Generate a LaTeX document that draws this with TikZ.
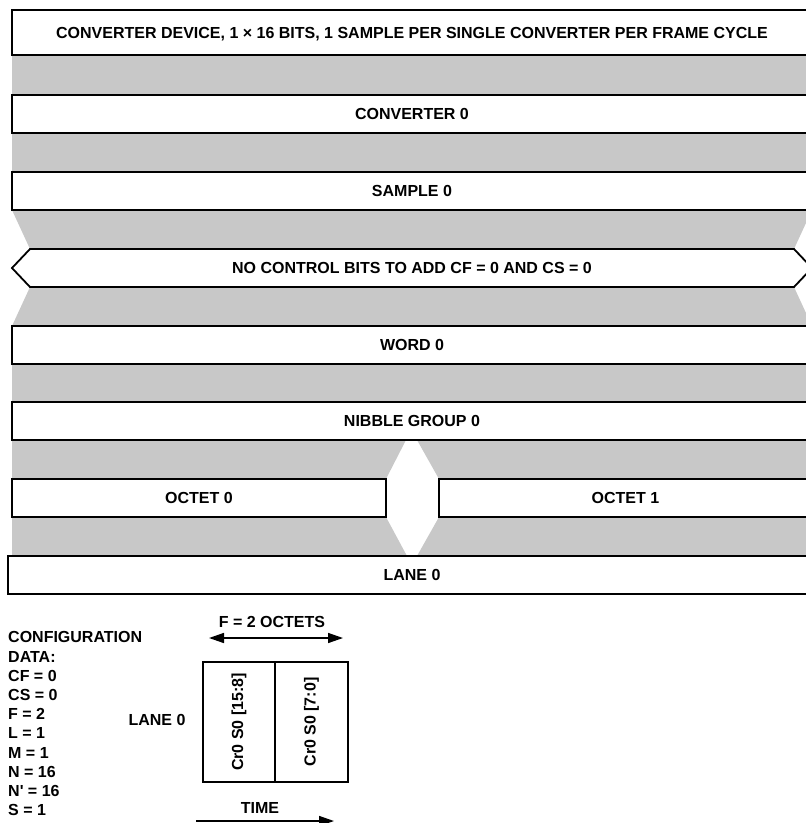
\documentclass[tikz,border=0pt]{standalone}
\usepackage{fontspec}
\setmainfont{Liberation Sans}
\usetikzlibrary{arrows.meta, positioning, calc}
\definecolor{bandgray}{HTML}{C8C8C8}

\begin{document}
\begin{tikzpicture}[x=1pt, y=-1pt, >={Stealth[length=15pt, width=10pt, inset=0pt]},
    font=\fontsize{16}{19.2}\selectfont\bfseries,
    layer/.style={rectangle, draw, fill=white, line width=1.8pt, inner sep=0pt,
      minimum width=800pt, minimum height=38pt, text height=11.5pt, text depth=0pt},
    cell/.style={rectangle, draw, line width=1.5pt, inner sep=0pt,
      minimum width=120pt, rotate=90},
    gap/.style={fill=bandgray}]
  \useasboundingbox (0,0) rectangle (806,823);
  \clip (0,0) rectangle (806,823);

  % grey bands between the layers
  \fill[gap] (12,55) rectangle (812,95);
  \fill[gap] (12,133) rectangle (812,172);
  \fill[gap] (12,210) -- (812,210) -- (794,249) -- (30,249) -- cycle;
  \fill[gap] (30,287) -- (794,287) -- (812,326) -- (12,326) -- cycle;
  \fill[gap] (12,364) rectangle (812,402);
  \fill[gap] (12,440) -- (406,440) -- (386,479) -- (12,479) -- cycle;
  \fill[gap] (417,440) -- (812,440) -- (812,479) -- (439,479) -- cycle;
  \fill[gap] (12,517) -- (386,517) -- (407,556) -- (12,556) -- cycle;
  \fill[gap] (439,517) -- (812,517) -- (812,556) -- (417,556) -- cycle;

  % layers
  \node[layer, minimum height=45pt] (dev) at (412,32.5)
    {CONVERTER DEVICE, 1 × 16 BITS, 1 SAMPLE PER SINGLE CONVERTER PER FRAME CYCLE};
  \node[layer] (conv) at (412,114) {CONVERTER 0};
  \node[layer] (samp) at (412,191) {SAMPLE 0};
  \draw[line width=1.8pt, fill=white] (12,268) -- (30,249) -- (794,249)
    -- (812,268) -- (794,287) -- (30,287) -- cycle;
  \node[text height=11.5pt, text depth=0pt] (ctrl) at (412,268)
    {NO CONTROL BITS TO ADD CF = 0 AND CS = 0};
  \node[layer] (word) at (412,345) {WORD 0};
  \node[layer] (nib) at (412,421) {NIBBLE GROUP 0};
  \node[layer, minimum width=374pt] (oct0) at (199,498) {OCTET 0};
  \node[layer, minimum width=373pt] (oct1) at (625.5,498) {OCTET 1};
  \node[layer, minimum width=808pt] (lane) at (412,575) {LANE 0};

  % configuration and lane mapping
  \node[anchor=north west, align=left, inner sep=0pt] (cfg) at (8,631.5)
    {CONFIGURATION\\DATA:\\CF = 0\\CS = 0\\F = 2\\L = 1\\M = 1\\N = 16\\N\textquotesingle{} = 16\\S = 1};
  \node (lanelbl) at (157,720) {LANE 0};
  \node[cell, minimum height=72pt] (c0) at (239,722) {Cr0 S0 [15:8]};
  \node[cell, minimum height=73pt] (c1) at (311.5,722) {Cr0 S0 [7:0]};

  \coordinate (fl) at (209,638);
  \coordinate (fr) at (343,638);
  \draw[<->, line width=1.5pt] (fl) -- (fr);
  \node (flbl) at (272,622) {F = 2 OCTETS};

  \coordinate (tl) at (196,821);
  \coordinate (tr) at (334,821);
  \draw[->, line width=1.5pt] (tl) -- (tr);
  \node (tlbl) at (260,808) {TIME};
\end{tikzpicture}
\end{document}
